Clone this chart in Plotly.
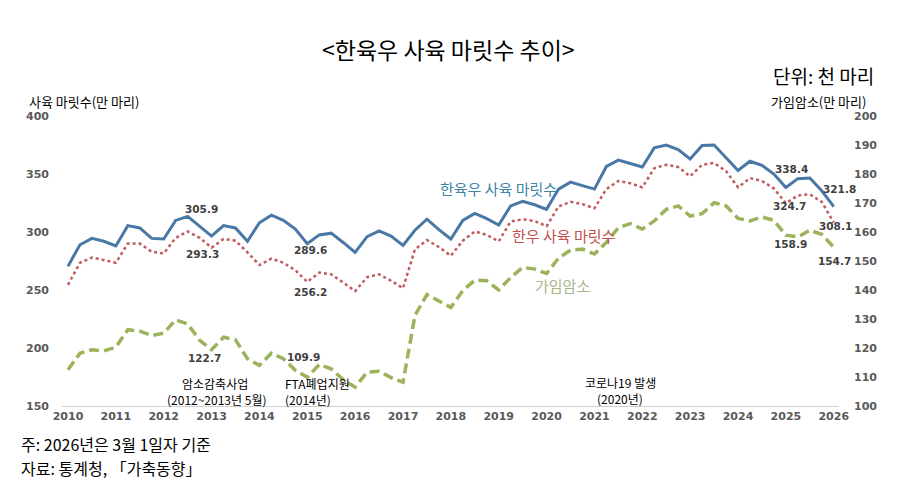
import plotly.graph_objs as go

# 분기별 자료 (3, 6, 9, 12월), 2010년 3월 ~ 2026년 3월
years = list(range(2010, 2027))
months = [3, 6, 9, 12]

# 한육우 사육 마릿수 (만 마리)
hanyukwoo = [270.5, 289, 294.5, 292, 288, 305.5, 303.5, 294.5, 294, 310,
             313.5, 305, 296.5, 305.5, 303.5, 292, 308, 314.5, 310, 302.5,
             290, 297.5, 299, 291, 282.5, 296, 301, 296.5, 288.5, 301.5,
             311, 302, 294, 310, 316, 311.5, 306, 322.5, 326.5, 323.5,
             319.5, 337, 343, 340, 337, 356.5, 362, 359, 356, 372.5,
             375, 371, 363, 374.5, 375, 364, 353, 361, 357.5, 350,
             338.4, 346, 346.5, 335.5, 321.8]

# 한우 사육 마릿수 (만 마리)
hanwoo = [254.5, 273.5, 278, 276, 273.5, 290, 290, 283, 281.5, 295,
          300.5, 295, 286.5, 294, 292.5, 282.5, 271.5, 277, 273.5, 267,
          257, 265, 263.5, 256.5, 249, 261, 263.5, 258, 251.5, 285,
          293, 287, 279.5, 292.5, 300.5, 297.5, 292, 309, 311, 309.5,
          305, 322, 326, 324, 320.5, 337, 344, 342, 338.5, 355,
          358, 356, 348, 358, 359.5, 352.5, 338.5, 346.5, 344, 337.5,
          324.7, 331.5, 332.5, 326, 308.1]

# 가임암소 (만 마리)
cows = [112.5, 118.2, 119.4, 119, 120.3, 126.3, 125.8, 124.3, 125.1, 129.7,
        128.3, 122.7, 119.4, 123.7, 122.8, 116.3, 114, 118.2, 116.3, 112.3,
        109.9, 114.3, 112.8, 109.1, 106.5, 111.7, 112, 109.8, 108.2, 131.2,
        138.4, 136.3, 134, 139.8, 143.4, 143.2, 140, 144.3, 147.8, 147.2,
        145.7, 151, 153.7, 154.1, 152.4, 156.4, 161.5, 162.9, 161, 163.8,
        167.8, 169, 165.5, 166.3, 170.1, 169, 164.7, 163.8, 165.2, 164,
        158.9, 158.3, 160.6, 159.2, 154.7]

# x값: 연도 + 분기 (3월 = 연도 눈금 위치)
x = [y + (m - 3) / 12 for y in years for m in months][:len(hanyukwoo)]

KR = "Noto Sans CJK KR"
NUM = "DejaVu Sans"

data = [
    go.Scatter(x=x, y=hanyukwoo, mode='lines', name='한육우 사육 마릿수',
               line=dict(color='#4a78a6', width=3)),
    go.Scatter(x=x, y=hanwoo, mode='lines', name='한우 사육 마릿수',
               line=dict(color='#c25a5e', width=2.5, dash='dot')),
    go.Scatter(x=x, y=cows, mode='lines', name='가임암소', yaxis='y2',
               line=dict(color='#9bb35a', width=3.5, dash='10px,5px')),
]

# 페이지 body 여백(8px)만큼 줄여서 그림
OFF = 8
W, H = 897 - 2 * OFF, 501 - 2 * OFF
L, T = 62 - OFF, 116 - OFF
R, B = W - (839 - OFF), H - (406 - OFF)
pw, ph = W - L - R, H - T - B


def px(xp, yp, text, size=10.5, color='#404040', bold=False, family=NUM, anchor='center'):
    # 화면 픽셀 위치 -> paper 좌표
    xp, yp = xp - OFF, yp - OFF
    return dict(x=(xp - L) / pw, y=(H - B - yp) / ph, xref='paper', yref='paper',
                text=text, showarrow=False, xanchor=anchor, yanchor='middle',
                font=dict(family=family, size=size, color=color,
                          weight='bold' if bold else 'normal'))


annotations = [
    px(448, 49, '&lt;한육우 사육 마릿수 추이&gt;', size=23, color='#000', family=KR),
    px(876, 76, '단위: 천 마리', size=19, color='#000', family=KR, anchor='right'),
    px(27, 102, '사육 마릿수(만 마리)', size=13, color='#000', family=KR, anchor='left'),
    px(868, 102, '가임암소(만 마리)', size=13, color='#000', family=KR, anchor='right'),
    # 계열 이름
    px(499, 188, '한육우 사육 마릿수', size=15, color='#3d84a8', family=KR),
    px(563, 235, '한우 사육 마릿수', size=15, color='#c0504d', family=KR),
    px(562, 285, '가임암소', size=15, color='#a9b58a', family=KR),
    # 값 표시
    px(201, 209, '305.9', bold=True), px(202, 254, '293.3', bold=True),
    px(310, 250, '289.6', bold=True), px(310, 292, '256.2', bold=True),
    px(204, 358, '122.7', bold=True), px(303, 357, '109.9', bold=True),
    px(791, 169, '338.4', bold=True), px(789, 206, '324.7', bold=True),
    px(840, 189, '321.8', bold=True), px(835, 226, '308.1', bold=True),
    px(790, 244, '158.9', bold=True), px(834, 261, '154.7', bold=True),
    # 사건 표시
    px(215, 383, '암소감축사업', size=12, color='#000', family=KR),
    px(216, 399, '(2012~2013년 5월)', size=12, color='#000', family=KR),
    px(317, 383, 'FTA폐업지원', size=12, color='#000', family=KR),
    px(308, 399, '(2014년)', size=12, color='#000', family=KR),
    px(620, 382, '코로나19 발생', size=12, color='#000', family=KR),
    px(620, 398, '(2020년)', size=12, color='#000', family=KR),
    # 주석
    px(19, 444, '주: 2026년은 3월 1일자 기준', size=16, color='#000', family=KR, anchor='left'),
    px(19, 468, '자료: 통계청, 「가축동향」', size=16, color='#000', family=KR, anchor='left'),
]

tickfont = dict(family=NUM, size=11, color='#595959', weight='bold')

layout = go.Layout(
    width=W, height=H, autosize=False,
    margin=dict(l=L, r=R, t=T, b=B),
    plot_bgcolor='white', paper_bgcolor='white',
    showlegend=False,
    xaxis=dict(range=[2009.875, 2026.11], tickvals=years, ticktext=[str(y) for y in years],
               showgrid=False, zeroline=False, showline=True, linecolor='#d0d0d0',
               linewidth=1, ticks='', tickfont=tickfont, fixedrange=True),
    yaxis=dict(range=[150, 400], dtick=50, showgrid=False, zeroline=False,
               showline=False, ticks='', tickfont=tickfont, ticklabelstandoff=12),
    yaxis2=dict(range=[100, 200], dtick=10, overlaying='y', side='right',
                showgrid=False, zeroline=False, showline=False, ticks='',
                tickfont=tickfont, ticklabelstandoff=14),
    annotations=annotations,
)

fig = go.Figure(data=data, layout=layout)
fig.write_html("out.html")
